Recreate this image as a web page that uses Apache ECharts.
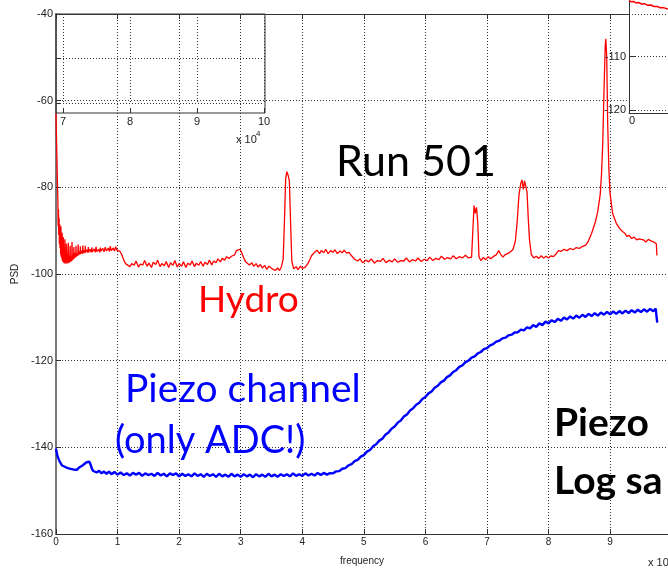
<!DOCTYPE html>
<html>
<head>
<meta charset="utf-8">
<script src="https://cdn.jsdelivr.net/npm/echarts@6/dist/echarts.min.js"></script>
<style>
  html, body { margin: 0; padding: 0; background: #fff; }
  #chart { width: 668px; height: 571px; }
</style>
</head>
<body>
<div id="chart"></div>
<script>
// Frequency axis in units of 1e4 Hz, PSD in dB; the frame runs just past 9.9 on screen
const freqRange = [0, 9.94];
const psdRange = [-160, -40];
const psdStep = 20;

const zoomFreqRange = [7, 10];
const zoomPsdRange = [-60, -40];
const sideInsetPsdRange = [-120, -102];

// Hydrophone channel PSD: [frequency (x1e4), dB]
const hydroPsd = [
  [0,-63],[0.01,-70],[0.02,-77],[0.03,-83],[0.035,-89],[0.04,-85],[0.045,-91],[0.05,-87],[0.055,-93],
  [0.06,-88.5],[0.065,-94],[0.07,-90],[0.075,-95.5],[0.08,-89],[0.085,-96],[0.09,-92],[0.095,-96.5],
  [0.1,-90.5],[0.105,-97],[0.11,-93.5],[0.115,-97.2],[0.12,-91.5],[0.125,-97.4],[0.13,-94.5],[0.14,-97.5],
  [0.145,-92],[0.15,-97.6],[0.16,-95],[0.165,-97.3],[0.17,-93],[0.175,-97.6],[0.185,-95.5],[0.19,-97.4],
  [0.2,-92.8],[0.205,-97.5],[0.215,-95.8],[0.225,-97.3],[0.23,-93.5],[0.235,-97.2],[0.245,-96],[0.255,-97],
  [0.26,-92.6],[0.265,-96.8],[0.275,-95.5],[0.285,-96.6],[0.29,-93.8],[0.295,-96.4],[0.31,-95.2],[0.32,-96.2],
  [0.325,-93.5],[0.33,-96],[0.345,-95.3],[0.355,-95.8],[0.36,-93.2],[0.365,-95.6],[0.38,-94.8],[0.39,-95.5],
  [0.395,-93.6],[0.4,-95.4],[0.42,-94.6],[0.43,-95.3],[0.435,-93.4],[0.44,-95.2],[0.46,-94.5],[0.47,-95.2],
  [0.475,-93.5],[0.48,-95.0],[0.5,-94.4],[0.52,-95.1],[0.525,-93.8],[0.53,-95.0],[0.55,-94.3],[0.57,-95.0],
  [0.58,-93.9],[0.59,-94.9],[0.62,-94.2],[0.64,-95.0],[0.65,-93.7],[0.66,-94.8],[0.69,-94.3],[0.71,-95.0],
  [0.72,-93.9],[0.73,-94.7],[0.76,-94.1],[0.78,-94.9],[0.8,-93.8],[0.82,-94.7],[0.85,-94.0],[0.87,-94.8],
  [0.88,-93.6],[0.9,-94.6],[0.93,-94.0],[0.95,-94.7],[0.97,-93.7],[0.99,-94.5],[1.02,-94.1],[1.04,-94.8],
  [1.07,-95.6],[1.1,-96.8],[1.13,-97.6],[1.16,-97.2],[1.2,-98.3],[1.23,-97.6],[1.27,-98.0],[1.3,-97.0],
  [1.34,-98.4],[1.37,-97.7],[1.41,-97.9],[1.44,-96.9],[1.48,-98.2],[1.51,-97.5],[1.55,-98.5],[1.58,-97.3],
  [1.62,-97.8],[1.65,-96.8],[1.69,-98.3],[1.72,-97.6],[1.76,-98.1],[1.79,-97.1],[1.83,-98.5],[1.86,-97.4],
  [1.9,-98.0],[1.93,-96.9],[1.97,-98.4],[2.0,-97.6],[2.04,-98.2],[2.07,-97.2],[2.11,-98.5],[2.14,-97.5],
  [2.18,-97.9],[2.21,-97.0],[2.25,-98.3],[2.28,-97.5],[2.32,-98.0],[2.35,-97.1],[2.39,-98.2],[2.42,-97.3],
  [2.46,-97.8],[2.49,-96.8],[2.53,-97.9],[2.56,-97.0],[2.6,-97.4],[2.63,-96.5],[2.67,-97.2],[2.7,-96.4],
  [2.74,-96.8],[2.77,-96.0],[2.81,-96.4],[2.85,-95.9],[2.9,-95.6],[2.93,-94.6],[2.96,-95.0],[2.99,-94.3],
  [3.02,-95.2],[3.05,-96.3],[3.08,-97.2],[3.11,-97.0],[3.14,-97.9],[3.18,-97.4],[3.21,-98.2],[3.25,-97.6],
  [3.28,-98.4],[3.32,-97.8],[3.35,-98.6],[3.39,-98.0],[3.42,-98.9],[3.46,-98.2],[3.5,-98.7],[3.53,-98.3],
  [3.56,-99.2],[3.6,-98.6],[3.63,-99.2],[3.66,-98.4],[3.69,-96.5],[3.71,-88],[3.73,-78],[3.75,-76.4],
  [3.77,-77.2],[3.79,-78.5],[3.81,-88],[3.83,-97],[3.86,-98.8],[3.9,-98.3],[3.93,-99.0],[3.97,-98.2],
  [4.0,-98.7],[4.05,-98.4],[4.1,-97.4],[4.15,-95.8],[4.2,-95.0],[4.24,-94.5],[4.28,-95.3],[4.31,-94.6],
  [4.35,-95.1],[4.38,-94.3],[4.42,-95.3],[4.46,-94.6],[4.5,-95.0],[4.53,-94.4],[4.57,-95.3],[4.61,-94.7],
  [4.65,-95.1],[4.68,-94.5],[4.72,-95.2],[4.76,-95.0],[4.8,-95.8],[4.85,-96.6],[4.9,-97.0],[4.94,-96.5],
  [4.98,-97.4],[5.03,-96.8],[5.08,-97.2],[5.12,-96.5],[5.17,-97.5],[5.22,-96.9],[5.27,-97.1],[5.31,-96.4],
  [5.36,-97.4],[5.41,-96.8],[5.46,-97.2],[5.5,-96.5],[5.55,-97.3],[5.6,-96.9],[5.65,-97.0],[5.69,-96.3],
  [5.74,-97.2],[5.79,-96.7],[5.84,-97.0],[5.88,-96.3],[5.93,-97.1],[5.98,-96.6],[6.03,-96.9],[6.07,-96.1],
  [6.12,-96.9],[6.17,-96.4],[6.22,-96.7],[6.26,-95.9],[6.31,-96.6],[6.36,-96.2],[6.41,-96.5],[6.45,-95.8],
  [6.5,-96.5],[6.55,-96.0],[6.6,-96.3],[6.65,-95.7],[6.7,-96.3],[6.75,-96.1],[6.77,-90],[6.79,-84.2],
  [6.81,-86],[6.83,-84.6],[6.85,-88],[6.87,-96],[6.9,-96.9],[6.94,-96.2],[6.98,-96.7],[7.02,-96.0],
  [7.06,-96.5],[7.1,-96.0],[7.15,-95.6],[7.19,-94.6],[7.22,-95.4],[7.26,-96.1],[7.29,-95.6],[7.32,-96.0],
  [7.35,-95.2],[7.38,-95.0],[7.42,-94.4],[7.46,-92.5],[7.49,-88],[7.52,-81.7],[7.55,-79],[7.57,-78.3],
  [7.59,-80.5],[7.61,-78.5],[7.63,-78.3],[7.65,-81],[7.67,-87],[7.69,-92],[7.72,-95.5],[7.76,-96.3],
  [7.8,-95.9],[7.84,-96.4],[7.88,-95.8],[7.92,-96.3],[7.96,-95.9],[8.0,-96.3],[8.04,-95.8],[8.08,-96.0],
  [8.12,-95.4],[8.16,-94.6],[8.2,-94.8],[8.25,-94.3],[8.3,-94.6],[8.35,-94.1],[8.4,-94.4],[8.45,-93.9],
  [8.5,-94.1],[8.55,-93.6],[8.6,-93.4],[8.64,-92.6],[8.7,-90.6],[8.76,-88],[8.8,-85.5],[8.84,-81.5],
  [8.86,-77],[8.88,-70],[8.9,-58],[8.92,-47.5],[8.93,-45.7],[8.945,-50],[8.96,-65],[8.98,-76],
  [9.0,-81.5],[9.04,-86],[9.1,-88.3],[9.15,-89.4],[9.2,-90.2],[9.24,-90.6],[9.27,-91.3],[9.31,-91.1],
  [9.35,-91.8],[9.39,-91.5],[9.43,-92.1],[9.47,-91.9],[9.5,-92.3],[9.54,-92.1],[9.58,-92.6],[9.62,-92.0],
  [9.64,-91.8],[9.67,-92.4],[9.71,-92.6],[9.75,-93.0],[9.76,-95.7]
];

// Piezo channel PSD (ADC only): [frequency (x1e4), dB]
const piezoPsd = [
  [0,-140.3],[0.02,-141.8],[0.04,-142.6],[0.06,-143.3],[0.08,-143.6],[0.1,-144.2],[0.13,-144.0],[0.16,-144.6],
  [0.19,-144.3],[0.22,-144.9],[0.25,-144.6],[0.28,-145.1],[0.31,-144.8],[0.34,-145.2],[0.37,-144.7],[0.4,-144.8],
  [0.43,-144.2],[0.46,-144.1],[0.49,-143.5],[0.52,-143.8],[0.54,-143.3],[0.56,-143.9],[0.58,-144.8],[0.6,-145.4],
  [0.63,-145.3],[0.66,-145.8],[0.7,-145.4],[0.74,-146.0],[0.78,-145.6],[0.82,-146.1],[0.86,-145.6],[0.9,-146.2],
  [0.95,-145.7],[1.0,-146.3],[1.05,-145.8],[1.1,-146.4],[1.15,-146.0],[1.2,-146.5],[1.25,-145.9],[1.3,-146.3],
  [1.35,-145.9],[1.4,-146.6],[1.45,-146.0],[1.5,-146.4],[1.55,-146.1],[1.6,-146.6],[1.65,-145.9],[1.7,-146.5],
  [1.75,-146.1],[1.8,-146.7],[1.85,-146.0],[1.9,-146.4],[1.95,-146.0],[2.0,-146.7],[2.05,-146.1],[2.1,-146.6],
  [2.15,-146.2],[2.2,-146.7],[2.25,-146.0],[2.3,-146.6],[2.35,-146.2],[2.4,-146.8],[2.45,-146.1],[2.5,-146.6],
  [2.55,-146.2],[2.6,-146.8],[2.65,-146.1],[2.7,-146.7],[2.75,-146.3],[2.8,-146.8],[2.85,-146.1],[2.9,-146.7],
  [2.95,-146.3],[3.0,-146.8],[3.05,-146.2],[3.1,-146.7],[3.15,-146.3],[3.2,-146.9],[3.25,-146.2],[3.3,-146.7],
  [3.35,-146.3],[3.4,-146.8],[3.45,-146.1],[3.5,-146.7],[3.55,-146.3],[3.6,-146.8],[3.65,-146.2],[3.7,-146.6],
  [3.75,-146.2],[3.8,-146.7],[3.85,-146.0],[3.9,-146.6],[3.95,-146.2],[4.0,-146.6],[4.05,-146.0],[4.1,-146.5],
  [4.15,-146.1],[4.2,-146.5],[4.25,-145.9],[4.3,-146.4],[4.35,-145.9],[4.4,-146.3],[4.45,-145.95],[4.5,-146.0],
  [4.55,-145.55],[4.6,-145.5],[4.65,-144.95],[4.7,-144.8],[4.75,-144.15],[4.8,-143.9],[4.85,-143.2],[4.9,-142.9],
  [4.95,-142.15],[5.0,-141.8],[5.05,-141.0],[5.1,-140.6],[5.15,-139.75],[5.2,-139.3],[5.25,-138.45],[5.3,-138.0],
  [5.35,-137.1],[5.4,-136.6],[5.45,-135.7],[5.5,-135.2],[5.55,-134.3],[5.6,-133.8],[5.65,-132.9],[5.7,-132.4],
  [5.75,-131.5],[5.8,-131.0],[5.85,-130.15],[5.9,-129.7],[5.95,-128.85],[6.0,-128.4],[6.05,-127.55],[6.1,-127.1],
  [6.15,-126.25],[6.2,-125.8],[6.25,-125.0],[6.3,-124.6],[6.35,-123.8],[6.4,-123.4],[6.45,-122.6],[6.5,-122.2],
  [6.55,-121.45],[6.6,-121.1],[6.65,-120.35],[6.7,-120.0],[6.75,-119.3],[6.8,-119.0],[6.85,-118.3],[6.9,-118.0],
  [6.95,-117.35],[7.0,-117.1],[7.05,-116.45],[7.1,-116.2],[7.15,-115.6],[7.2,-115.4],[7.25,-114.85],[7.3,-114.7],
  [7.35,-114.15],[7.4,-114.0],[7.45,-113.5],[7.5,-113.45],[7.55,-112.85],[7.6,-113.0],[7.65,-112.3],[7.7,-112.55],
  [7.75,-111.8],[7.8,-112.2],[7.85,-111.4],[7.9,-111.8],[7.95,-111.0],[8.0,-111.4],[8.05,-110.65],[8.1,-111.1],
  [8.15,-110.35],[8.2,-110.8],[8.25,-110.05],[8.3,-110.5],[8.35,-109.8],[8.4,-110.3],[8.45,-109.6],[8.5,-110.1],
  [8.55,-109.4],[8.6,-109.9],[8.65,-109.2],[8.7,-109.7],[8.75,-109.05],[8.8,-109.6],[8.85,-108.9],[8.9,-109.4],
  [8.95,-108.75],[9.0,-109.3],[9.05,-108.65],[9.1,-109.2],[9.15,-108.55],[9.2,-109.1],[9.25,-108.45],[9.3,-109.0],
  [9.35,-108.35],[9.4,-108.9],[9.45,-108.25],[9.5,-108.8],[9.55,-108.15],[9.6,-108.7],[9.65,-108.05],[9.7,-108.6],
  [9.74,-108.0],[9.76,-108.4],[9.765,-111.2]
];

// Fragment of the neighbouring trace above the main frame
const upperTrace = [
  [0,-110.5],[0.06,-111.8],[0.12,-111.4],[0.18,-112.9],[0.25,-112.5],[0.32,-114.0],[0.4,-113.7],
  [0.48,-115.3],[0.56,-115.0],[0.64,-116.5],[0.72,-116.4],[0.8,-117.8],[0.88,-117.6],[1.0,-119.0]
];

const tickFont = "'Liberation Sans Narrow', 'Liberation Sans', Arial, sans-serif";
const slideFont = "Lato, 'Open Sans', sans-serif";
const dotted = { color: '#333', width: 1, type: [1, 2] };
const frameLine = { show: true, lineStyle: { color: '#333', width: 1 } };
const hidden = { show: false };

const chart = echarts.init(document.getElementById('chart'), null, { renderer: 'canvas' });

chart.setOption({
  animation: false,
  backgroundColor: '#fff',
  grid: [
    { left: 56, top: 14, width: 612, height: 527 },                                   // 0 main
    { left: 56, top: 14, width: 209, height: 99, show: true, backgroundColor: 'transparent',
      borderColor: '#333', borderWidth: 1, z: 3 },                                      // 1 zoom box
    { left: 63, top: 14, width: 201, height: 89, z: 3 },                                // 2 zoom axes
    { left: 629, top: 14, width: 39, height: 99, show: true, backgroundColor: '#fff',
      borderWidth: 0, z: 3 },                                                           // 3 side box
    { left: 629, top: 14, width: 39, height: 96, z: 3 },                                // 4 side axes
    { left: 629, top: 0, width: 39, height: 14, z: 3 }                                  // 5 upper strip
  ],
  xAxis: [
    {
      gridIndex: 0, type: 'value', min: freqRange[0], max: freqRange[1], interval: 1,
      name: 'frequency', nameLocation: 'middle', nameGap: 22,
      nameTextStyle: { fontFamily: tickFont, fontSize: 10, color: '#222' },
      axisLine: { lineStyle: { color: '#333', width: 1 } },
      axisTick: { inside: true, length: 5, lineStyle: { color: '#333' } },
      axisLabel: { fontFamily: tickFont, fontSize: 10, color: '#222', margin: 3, showMaxLabel: false },
      splitLine: { show: true, lineStyle: dotted }
    },
    {
      gridIndex: 0, type: 'value', position: 'top', min: freqRange[0], max: freqRange[1], interval: 1,
      axisLine: { lineStyle: { color: '#333', width: 1 } },
      axisTick: { inside: true, length: 5, lineStyle: { color: '#333' } },
      axisLabel: hidden, splitLine: hidden
    },
    { gridIndex: 1, type: 'value', min: 0, max: 1, show: false },
    {
      gridIndex: 2, type: 'value', min: zoomFreqRange[0], max: zoomFreqRange[1], interval: 1,
      offset: 10, z: 4,
      axisLine: hidden,
      axisTick: { inside: true, length: 5, lineStyle: { color: '#333' } },
      axisLabel: { fontFamily: tickFont, fontSize: 11, color: '#222', margin: 3 },
      splitLine: { show: true, lineStyle: dotted }
    },
    {
      gridIndex: 3, type: 'value', min: 0, max: 1, z: 4,
      axisLine: frameLine, axisTick: hidden, axisLabel: hidden, splitLine: hidden
    },
    {
      gridIndex: 4, type: 'value', min: 0, max: 1, interval: 1, offset: 3, z: 4,
      axisLine: hidden, axisTick: hidden,
      axisLabel: { fontFamily: tickFont, fontSize: 11, color: '#222', margin: 2, align: 'left', showMaxLabel: false },
      splitLine: hidden
    },
    { gridIndex: 5, type: 'value', min: 0, max: 1, show: false }
  ],
  yAxis: [
    {
      gridIndex: 0, type: 'value', min: psdRange[0], max: psdRange[1], interval: psdStep,
      name: 'PSD', nameLocation: 'middle', nameGap: 35, nameRotate: 90,
      nameTextStyle: { fontFamily: tickFont, fontSize: 10, color: '#222' },
      axisLine: { lineStyle: { color: '#777', width: 2 } },
      axisTick: { inside: true, length: 5, lineStyle: { color: '#333' } },
      axisLabel: { fontFamily: tickFont, fontSize: 11, color: '#222', margin: 3 },
      splitLine: { show: true, lineStyle: dotted }
    },
    { gridIndex: 1, type: 'value', min: 0, max: 1, show: false },
    {
      gridIndex: 2, type: 'value', min: zoomPsdRange[0], max: zoomPsdRange[1], interval: 10,
      offset: 7, z: 4,
      axisLine: hidden,
      axisTick: { inside: true, length: 5, lineStyle: { color: '#333' } },
      axisLabel: hidden,
      splitLine: { show: true, lineStyle: dotted }
    },
    {
      gridIndex: 3, type: 'value', min: 0, max: 1, z: 4,
      axisLine: frameLine, axisTick: hidden, axisLabel: hidden, splitLine: hidden
    },
    {
      gridIndex: 4, type: 'value', min: sideInsetPsdRange[0], max: sideInsetPsdRange[1], interval: 10, z: 4,
      axisLine: hidden,
      axisTick: { inside: true, length: 6, lineStyle: { color: '#333' } },
      axisLabel: { fontFamily: tickFont, fontSize: 11, color: '#222', margin: 3, showMaxLabel: false },
      splitLine: { show: true, lineStyle: dotted }
    },
    {
      gridIndex: 5, type: 'value', min: -124, max: -110, z: 4,
      axisLine: frameLine, axisTick: hidden, axisLabel: hidden, splitLine: hidden
    }
  ],
  series: [
    {
      name: 'Hydro', type: 'line', xAxisIndex: 0, yAxisIndex: 0, data: hydroPsd,
      showSymbol: false, lineStyle: { color: '#ff0000', width: 1.3 }, z: 2
    },
    {
      name: 'Piezo', type: 'line', xAxisIndex: 0, yAxisIndex: 0, data: piezoPsd,
      showSymbol: false, lineStyle: { color: '#0000ff', width: 2.4 }, z: 2
    },
    {
      name: 'upper', type: 'line', xAxisIndex: 6, yAxisIndex: 5, data: upperTrace,
      showSymbol: false, lineStyle: { color: '#ff0000', width: 1.5 }, z: 4
    }
  ],
  graphic: [
    { type: 'text', x: 648, y: 563, z: 10, style: { text: 'x 10', fontFamily: tickFont, fontSize: 11, fill: '#222', verticalAlign: 'middle' } },
    { type: 'text', x: 236, y: 140, z: 10, style: { text: 'x 10', fontFamily: tickFont, fontSize: 11, fill: '#222', verticalAlign: 'middle' } },
    { type: 'text', x: 256, y: 134, z: 10, style: { text: '4', fontFamily: tickFont, fontSize: 8, fill: '#222', verticalAlign: 'middle' } },
    { type: 'text', x: 336, y: 162, z: 10, style: { text: 'Run 501', fontFamily: slideFont, fontSize: 43, fill: '#000', verticalAlign: 'middle' } },
    { type: 'text', x: 198, y: 300, z: 10, style: { text: 'Hydro', fontFamily: slideFont, fontSize: 37, fill: '#ff0000', verticalAlign: 'middle' } },
    { type: 'text', x: 125, y: 389, z: 10, style: { text: 'Piezo channel', fontFamily: slideFont, fontSize: 39, fill: '#0000ff', verticalAlign: 'middle' } },
    { type: 'text', x: 115, y: 441, z: 10, style: { text: '(only ADC!)', fontFamily: slideFont, fontSize: 38, fill: '#0000ff', verticalAlign: 'middle' } },
    { type: 'text', x: 554, y: 423, z: 10, style: { text: 'Piezo', fontFamily: slideFont, fontWeight: 'bold', fontSize: 39, fill: '#000', verticalAlign: 'middle' } },
    { type: 'text', x: 554, y: 481, z: 10, style: { text: 'Log sa', fontFamily: slideFont, fontWeight: 'bold', fontSize: 39, fill: '#000', verticalAlign: 'middle' } }
  ]
});
</script>
</body>
</html>
